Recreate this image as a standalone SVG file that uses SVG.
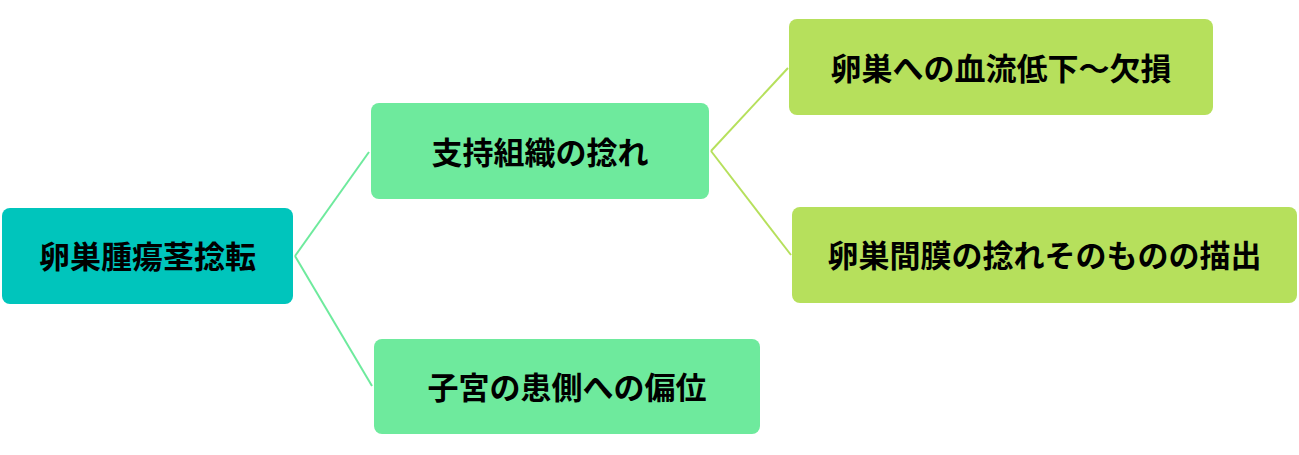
<svg xmlns="http://www.w3.org/2000/svg" width="1299" height="455" viewBox="0 0 1299 455">
<style>
.t{font-family:"Noto Sans CJK JP","Noto Sans CJK SC",sans-serif;font-weight:bold;font-size:31px;fill:#000;text-anchor:middle;dominant-baseline:central}
.root{fill:#00c5bc}
.mid{fill:#6eea9d}
.leaf{fill:#b6e05c}
.c1{stroke:#6eea9d;stroke-width:2;fill:none}
.c2{stroke:#b6e05c;stroke-width:2;fill:none}
</style>
<rect width="1299" height="455" fill="#fff"/>
<g id="connectors">
<path class="c1" d="M295,256 L369,152"/>
<path class="c1" d="M295,256 L372,386"/>
<path class="c2" d="M711,151 L788,68"/>
<path class="c2" d="M711,151 L791,255"/>
</g>
<g id="root">
<rect class="root" x="2" y="208" width="291" height="96" rx="8"/>
<text class="t" x="147.5" y="254">卵巣腫瘍茎捻転</text>
</g>
<g id="mid1">
<rect class="mid" x="371" y="103" width="338" height="96" rx="8"/>
<text class="t" x="540" y="150">支持組織の捻れ</text>
</g>
<g id="mid2">
<rect class="mid" x="374" y="339" width="386" height="95" rx="8"/>
<text class="t" x="567" y="385">子宮の患側への偏位</text>
</g>
<g id="leaf1">
<rect class="leaf" x="789" y="19" width="424" height="96" rx="8"/>
<text class="t" x="1001" y="66">卵巣への血流低下～欠損</text>
</g>
<g id="leaf2">
<rect class="leaf" x="792" y="207" width="505" height="96" rx="8"/>
<text class="t" x="1044.5" y="253">卵巣間膜の捻れそのものの描出</text>
</g>
</svg>
